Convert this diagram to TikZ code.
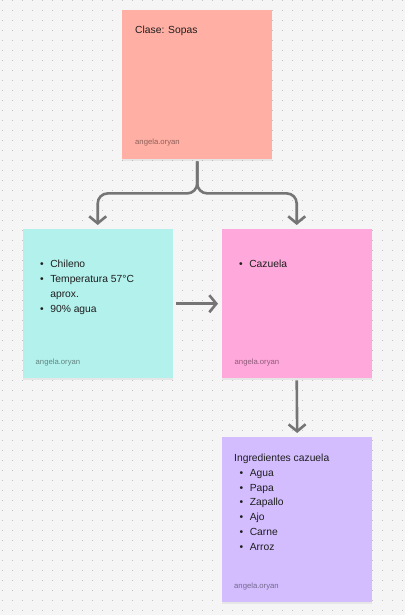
\documentclass[tikz,border=0pt]{standalone}
\usepackage{fontspec}
\setmainfont{Liberation Sans}
\usetikzlibrary{positioning,calc,arrows.meta,shadows}
\definecolor{bg}{HTML}{F5F5F5}
\definecolor{griddot}{HTML}{C2C2C2}
\definecolor{salmon}{HTML}{FFAFA3}
\definecolor{mint}{HTML}{B3F1EC}
\definecolor{rosa}{HTML}{FFA8DB}
\definecolor{lila}{HTML}{D3BDFF}
\definecolor{conn}{HTML}{757575}
\definecolor{ink}{HTML}{1E1E1E}
\newcommand{\punto}{\textbullet}
\tikzset{>={Straight Barb[length=7pt,width=17pt]},
  sticky/.style={rectangle,minimum width=150pt,minimum height=149pt,inner sep=0pt,anchor=north west,
    drop shadow={shadow xshift=0pt,shadow yshift=-1.5pt,opacity=.12}},
  body/.style={inner sep=0pt,anchor=base west,text=ink,font=\fontsize{10.3}{15}\selectfont},
  autor/.style={inner sep=0pt,anchor=base west,text=black,text opacity=.45,font=\fontsize{7.7}{9}\selectfont},
  flecha/.style={->,draw=conn,line width=2.6pt,rounded corners=10pt}}

\begin{document}
\begin{tikzpicture}[x=1pt,y=-1pt]
\fill[bg] (0,0) rectangle (405,615);
\useasboundingbox (0,0) rectangle (405,615);
% dotted canvas
\foreach \i in {0,...,40} \foreach \j in {0,...,61} \fill[griddot] (2.2+10*\i,-0.4+10*\j) rectangle ++(1.2,1.2);

% the four notes
\node[sticky,fill=salmon] (sopas) at (122,10) {};
\node[sticky,fill=mint] (chileno) at (22.5,229) {};
\node[sticky,fill=rosa] (cazuela) at (221.5,229) {};
\node[sticky,fill=lila,minimum height=165pt] (ingred) at (222,437) {};

\node[body] (sopas-t) at ($(sopas.north west)+(13,24)$) {Clase: Sopas};
\node[body] (chileno-t) at ($(chileno.north west)+(17.5,38.5)$) {\begin{tabular}[t]{@{}l@{\hspace{6.5pt}}l@{}}\punto & Chileno\\ \punto & Temperatura 57°C\\ & aprox.\\ \punto & 90\% agua\end{tabular}};
\node[body] (cazuela-t) at ($(cazuela.north west)+(17.5,38.5)$) {\begin{tabular}[t]{@{}l@{\hspace{6.5pt}}l@{}}\punto & Cazuela\end{tabular}};
\node[body,font=\fontsize{10.3}{14.8}\selectfont] (ingred-t) at ($(ingred.north west)+(12,24.5)$) {\begin{tabular}[t]{@{}l@{\hspace{6.5pt}}l@{}}\multicolumn{2}{@{}l@{}}{Ingredientes cazuela}\\ \hspace{5.5pt}\punto & Agua\\ \hspace{5.5pt}\punto & Papa\\ \hspace{5.5pt}\punto & Zapallo\\ \hspace{5.5pt}\punto & Ajo\\ \hspace{5.5pt}\punto & Carne\\ \hspace{5.5pt}\punto & Arroz\end{tabular}};

\node[autor] (sopas-a) at ($(sopas.south west)+(13,-15)$) {angela.oryan};
\node[autor] (chileno-a) at ($(chileno.south west)+(13,-14)$) {angela.oryan};
\node[autor] (cazuela-a) at ($(cazuela.south west)+(13,-14)$) {angela.oryan};
\node[autor] (ingred-a) at ($(ingred.south west)+(12,-14)$) {angela.oryan};

% connectors
\coordinate (split) at ($(sopas.south)+(0,34)$);
\draw[flecha,shorten <=2pt,shorten >=4pt] (sopas.south) -- (split) -| (chileno.north);
\draw[flecha,shorten <=2pt,shorten >=4pt] (sopas.south) -- (split) -| (cazuela.north);
\draw[flecha,shorten <=3pt,shorten >=3.5pt] (chileno.east) -- (cazuela.west);
\draw[flecha,shorten <=2pt,shorten >=4pt] (cazuela.south) -- (ingred.north);
\end{tikzpicture}
\end{document}
